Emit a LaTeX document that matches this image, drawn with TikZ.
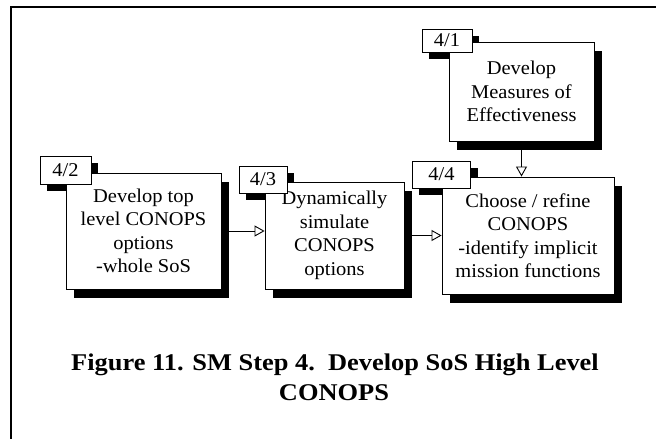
\documentclass[tikz,border=0pt]{standalone}
\usepackage{fontspec}
\setmainfont{Liberation Serif}
\newfontfamily\boxfont[FakeStretch=1.05]{Liberation Serif}
\newfontfamily\capfont[FakeStretch=1.1]{Liberation Serif}
\usetikzlibrary{arrows.meta,shadows}
\pgfdeclarelayer{bg}
\pgfsetlayers{bg,main}
\tikzset{
  mainbox/.style={draw=black, line width=0.9pt, fill=white, align=center,
    inner sep=0pt, font=\boxfont\fontsize{19.5}{23.5}\selectfont,
    general shadow={fill=black, shadow xshift=8pt, shadow yshift=-9pt}},
  tagbox/.style={draw=black, line width=0.9pt, fill=white, inner sep=0pt,
    font=\boxfont\fontsize{19.5}{23.5}\selectfont},
  tagshadow/.style={fill=black},
  arr/.style={line width=0.9pt, -{Triangle[length=10pt,width=11pt,fill=white]}},
  captext/.style={font=\capfont\bfseries\fontsize{24}{30}\selectfont, inner sep=0pt, anchor=base},
  frameline/.style={line width=2pt}
}
\begin{document}
\begin{tikzpicture}[x=1pt,y=-1pt]
\useasboundingbox (0,0) rectangle (656,439);
\draw[frameline] (11,439) -- (11,7) -- (656,7);

% main boxes
\node[mainbox, minimum width=145pt, minimum height=99pt] (b1) at (521.5,91.5)
  {Develop\\Measures of\\Effectiveness};
\node[mainbox, minimum width=155pt, minimum height=116pt] (b2) at (143.5,231)
  {Develop top\\level CONOPS\\options\\-whole SoS};
\node[mainbox, minimum width=139pt, minimum height=107pt] (b3) at (334.5,235.5)
  {Dynamically\\simulate\\CONOPS\\options};
\node[mainbox, minimum width=172pt, minimum height=117pt] (b4) at (528,235.5)
  {Choose / refine\\CONOPS\\-identify implicit\\mission functions};

% tags
\node[tagbox, minimum width=50pt, minimum height=23pt] (l1) at (447,40.5) {4/1};
\node[tagbox, minimum width=51pt, minimum height=28pt] (l2) at (65.5,170) {4/2};
\node[tagbox, minimum width=48pt, minimum height=27pt] (l3) at (263,179.5) {4/3};
\node[tagbox, minimum width=58pt, minimum height=27pt] (l4) at (441.5,174.5) {4/4};

\begin{pgfonlayer}{bg}
\foreach \t in {l1,l2,l3,l4}{
  \fill[tagshadow] ([shift={(7,7)}]\t.north west) rectangle ([shift={(7,7)}]\t.south east);
}
\end{pgfonlayer}

% connectors
\draw[arr] (b1.south) -- (b1.south |- b4.north);
\draw[arr] (b2.east) -- (b2.east -| b3.west);
\draw[arr] (b3.east) -- (b3.east -| b4.west);

% caption
\node[captext] (cap1) at (335,370) {Figure 11. SM Step 4.\ \ Develop SoS High Level};
\node[captext] (cap2) at (334,400) {CONOPS};
\end{tikzpicture}
\end{document}
